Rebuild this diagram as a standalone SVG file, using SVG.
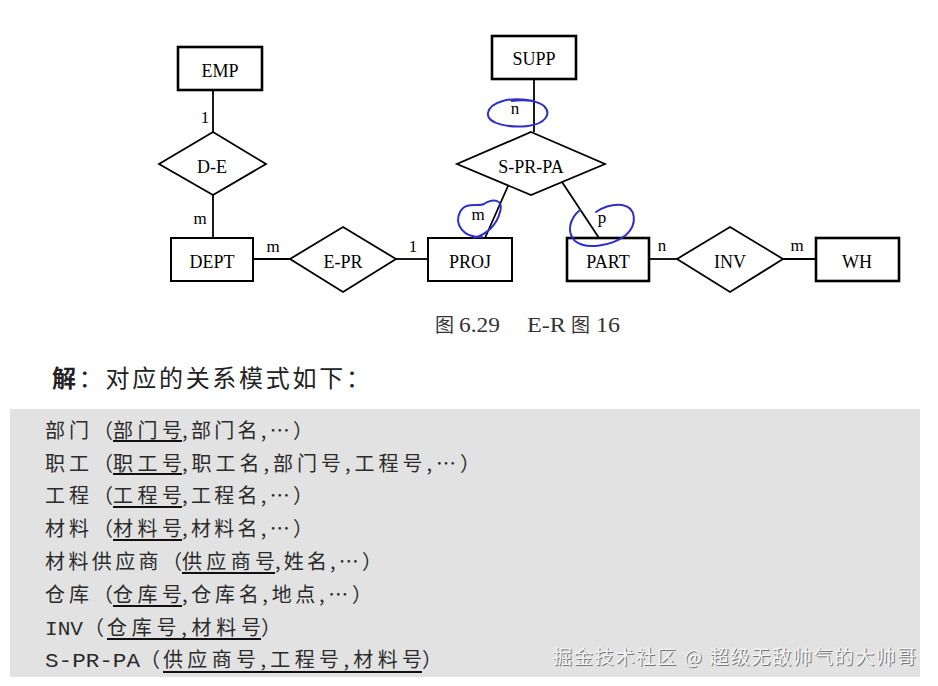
<svg xmlns="http://www.w3.org/2000/svg" width="938" height="686" viewBox="0 0 938 686">
<defs>
<style>
.ent{fill:#fff;stroke:#000;stroke-width:2.6}
.ent2{fill:#fff;stroke:#000;stroke-width:2}
.rel{fill:#fff;stroke:#000;stroke-width:1.8}
.ln{stroke:#000;stroke-width:1.8;fill:none}
.lb{font-family:"Liberation Serif","Times New Roman",serif;font-size:18px;fill:#000;text-anchor:middle}
.card{font-family:"Liberation Serif","Times New Roman",serif;font-size:17px;fill:#000;text-anchor:middle}
.blue{fill:none;stroke:#2f2fc8;stroke-width:2;stroke-linecap:round}
.cap{font-family:"Liberation Serif","Noto Sans CJK SC",serif;font-size:22px;fill:#333}
.capc{font-family:"Noto Sans CJK SC",sans-serif;font-size:19px;fill:#333}
.row{font-family:"Noto Sans CJK SC",sans-serif;font-size:20px;fill:#2b2b2b}
.mono{font-family:"Liberation Mono","Courier New",monospace;font-size:21px;fill:#2b2b2b}
.ul{stroke:#111;stroke-width:2}
.wm{font-family:"Noto Sans CJK SC",sans-serif;font-size:19px}
</style>
</defs>
<rect width="938" height="686" fill="#fff"/>

<g id="connectors">
<line class="ln" x1="213" y1="90" x2="213" y2="132"/>
<line class="ln" x1="213" y1="195" x2="213" y2="238"/>
<line class="ln" x1="253" y1="259" x2="290" y2="259"/>
<line class="ln" x1="396" y1="259" x2="428" y2="259"/>
<line class="ln" x1="534" y1="79" x2="534" y2="132"/>
<line class="ln" x1="508" y1="186" x2="485" y2="238"/>
<line class="ln" x1="562" y1="182" x2="599" y2="238"/>
<line class="ln" x1="649" y1="259" x2="677" y2="259"/>
<line class="ln" x1="783" y1="259" x2="816" y2="259"/>
<text class="card" x="205" y="123">1</text>
<text class="card" x="200" y="224">m</text>
<text class="card" x="273" y="252">m</text>
<text class="card" x="413" y="252">1</text>
<text class="card" x="515" y="114">n</text>
<text class="card" x="478" y="220">m</text>
<text class="card" x="602" y="223">p</text>
<text class="card" x="662" y="251">n</text>
<text class="card" x="797" y="251">m</text>
</g>

<g id="EMP"><rect class="ent" x="178" y="47" width="84" height="43"/><text class="lb" x="220" y="77">EMP</text></g>
<g id="D-E"><polygon class="rel" points="213,132 266,164 213,195 159,164"/><text class="lb" x="212" y="173">D-E</text></g>
<g id="DEPT"><rect class="ent2" x="171" y="238" width="82" height="43"/><text class="lb" x="212" y="268">DEPT</text></g>
<g id="E-PR"><polygon class="rel" points="343,227 396,259 343,292 290,259"/><text class="lb" x="343" y="268">E-PR</text></g>
<g id="PROJ"><rect class="ent2" x="428" y="238" width="84" height="43"/><text class="lb" x="470" y="268">PROJ</text></g>
<g id="SUPP"><rect class="ent" x="492" y="36" width="84" height="43"/><text class="lb" x="534" y="65">SUPP</text></g>
<g id="S-PR-PA"><polygon class="rel" points="531,132 605,164 531,195 457,164"/><text class="lb" x="531" y="173">S-PR-PA</text></g>
<g id="PART"><rect class="ent" x="567" y="238" width="82" height="43"/><text class="lb" x="608" y="268">PART</text></g>
<g id="INV"><polygon class="rel" points="730,227 783,259 730,292 677,259"/><text class="lb" x="730" y="268">INV</text></g>
<g id="WH"><rect class="ent" x="816" y="238" width="83" height="43"/><text class="lb" x="857" y="268">WH</text></g>

<g id="annotations">
<path class="blue" d="M 534 101 C 510 96, 490 102, 488 113 C 486 124, 510 128, 528 126 C 545 124, 552 114, 544 106 C 538 101, 525 99, 512 101"/>
<path class="blue" d="M 482 237 C 463 238, 454 224, 460 212 C 466 201, 478 207, 484 204 C 492 199, 504 198, 500 212 C 497 224, 488 234, 474 238"/>
<path class="blue" d="M 580 210 C 570 218, 566 232, 575 241 C 586 250, 612 246, 626 235 C 638 224, 636 207, 622 205 C 612 204, 602 208, 596 212"/>
</g>

<g id="caption">
<text class="capc" x="435" y="332">图</text>
<text class="cap" x="459" y="332" textLength="41" lengthAdjust="spacingAndGlyphs">6.29</text>
<text class="cap" x="527" y="332" textLength="39" lengthAdjust="spacingAndGlyphs">E-R</text>
<text class="capc" x="571" y="332">图</text>
<text class="cap" x="596" y="332" textLength="24" lengthAdjust="spacingAndGlyphs">16</text>
</g>

<g id="heading">
<text x="52" y="387" font-family="Noto Sans CJK SC,sans-serif" font-size="24" fill="#222" textLength="318" lengthAdjust="spacing"><tspan font-weight="bold">解</tspan><tspan>：对应的关系模式如下：</tspan></text>
</g>

<g id="panel">
<rect x="10" y="409" width="910" height="268" fill="#e2e2e2"/>

<text class="row" x="45" y="438" textLength="68" lengthAdjust="spacing">部门（</text>
<text class="row" x="113" y="438" textLength="69" lengthAdjust="spacing">部门号</text>
<text class="row" x="182" y="438" textLength="131" lengthAdjust="spacing">,部门名,…）</text>
<line class="ul" x1="113" y1="441" x2="182" y2="441"/>

<text class="row" x="45" y="471" textLength="68" lengthAdjust="spacing">职工（</text>
<text class="row" x="113" y="471" textLength="69" lengthAdjust="spacing">职工号</text>
<text class="row" x="182" y="471" textLength="298" lengthAdjust="spacing">,职工名,部门号,工程号,…）</text>
<line class="ul" x1="113" y1="474" x2="182" y2="474"/>

<text class="row" x="45" y="503" textLength="68" lengthAdjust="spacing">工程（</text>
<text class="row" x="113" y="503" textLength="69" lengthAdjust="spacing">工程号</text>
<text class="row" x="182" y="503" textLength="131" lengthAdjust="spacing">,工程名,…）</text>
<line class="ul" x1="113" y1="507" x2="182" y2="507"/>

<text class="row" x="45" y="536" textLength="68" lengthAdjust="spacing">材料（</text>
<text class="row" x="113" y="536" textLength="69" lengthAdjust="spacing">材料号</text>
<text class="row" x="182" y="536" textLength="131" lengthAdjust="spacing">,材料名,…）</text>
<line class="ul" x1="113" y1="540" x2="182" y2="540"/>

<text class="row" x="45" y="569" textLength="137" lengthAdjust="spacing">材料供应商（</text>
<text class="row" x="182" y="569" textLength="93" lengthAdjust="spacing">供应商号</text>
<text class="row" x="275" y="569" textLength="107" lengthAdjust="spacing">,姓名,…）</text>
<line class="ul" x1="182" y1="573" x2="275" y2="573"/>

<text class="row" x="45" y="602" textLength="68" lengthAdjust="spacing">仓库（</text>
<text class="row" x="113" y="602" textLength="69" lengthAdjust="spacing">仓库号</text>
<text class="row" x="182" y="602" textLength="190" lengthAdjust="spacing">,仓库名,地点,…）</text>
<line class="ul" x1="113" y1="606" x2="182" y2="606"/>

<text class="mono" x="45" y="635" textLength="38" lengthAdjust="spacingAndGlyphs">INV</text>
<text class="row" x="84" y="635">（</text>
<text class="row" x="107" y="635" textLength="154" lengthAdjust="spacing">仓库号,材料号</text>
<text class="row" x="261" y="635">）</text>
<line class="ul" x1="107" y1="639" x2="261" y2="639"/>

<text class="mono" x="45" y="667" textLength="95" lengthAdjust="spacingAndGlyphs">S-PR-PA</text>
<text class="row" x="140" y="667">（</text>
<text class="row" x="163" y="667" textLength="259" lengthAdjust="spacing">供应商号,工程号,材料号</text>
<text class="row" x="422" y="667">）</text>
<line class="ul" x1="163" y1="672" x2="422" y2="672"/>

<text class="wm" x="554" y="665" textLength="363" lengthAdjust="spacing" fill="#777">掘金技术社区 @ 超级无敌帅气的大帅哥</text>
<text class="wm" x="553" y="664" textLength="363" lengthAdjust="spacing" fill="#f4f4f4">掘金技术社区 @ 超级无敌帅气的大帅哥</text>
</g>
</svg>
